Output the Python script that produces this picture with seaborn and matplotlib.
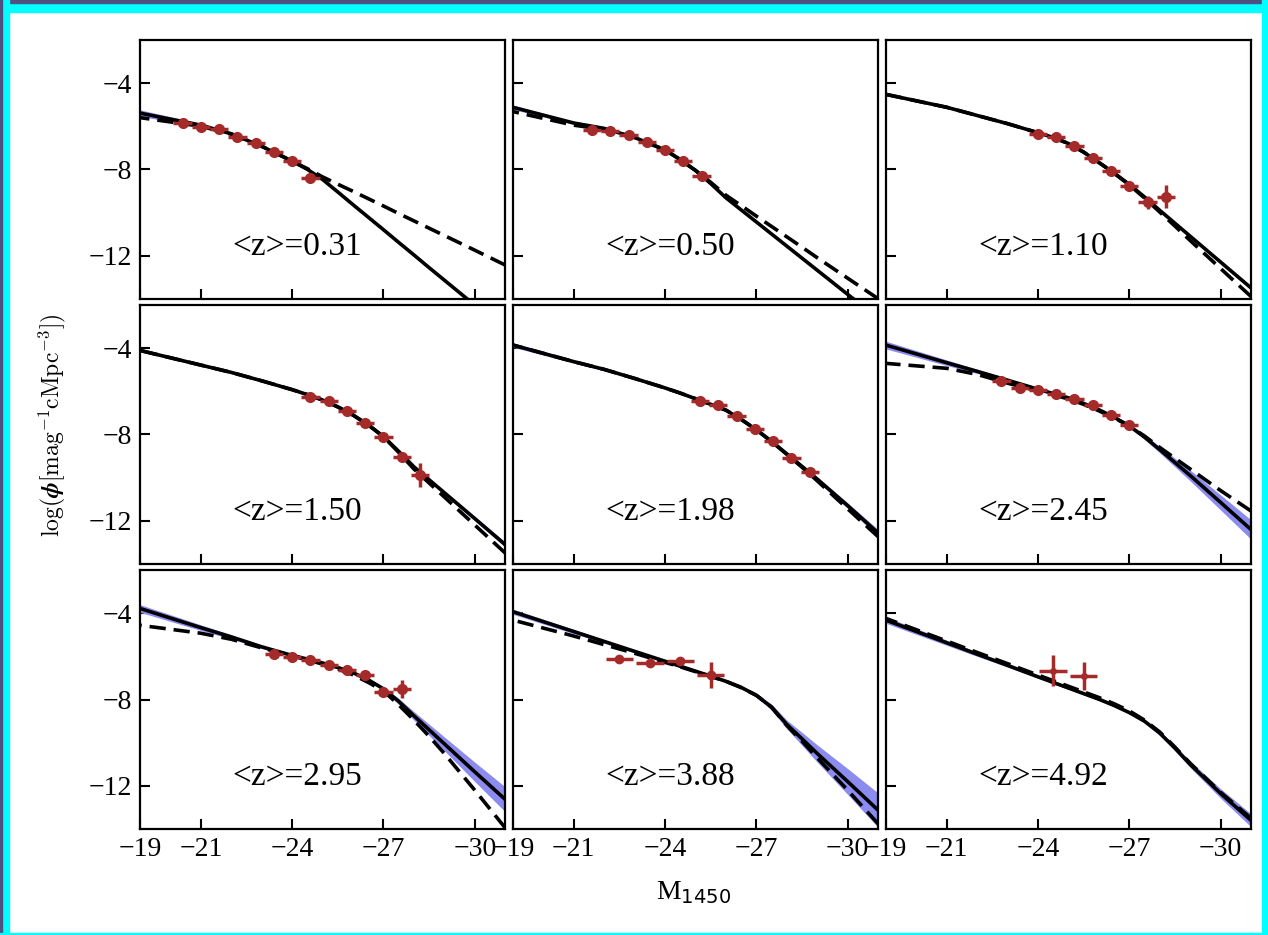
import numpy as np
import matplotlib
matplotlib.use('Agg')
import matplotlib.pyplot as plt
import seaborn as sns
from matplotlib.patches import Rectangle

# ==========================================
# Data
# ==========================================
z_labels = ['0.31', '0.50', '1.10', '1.50', '1.98', '2.45', '2.95', '3.88', '4.92']

M_grid = [-19, -21, -22, -23, -24, -24.5, -25, -25.5, -26, -26.5, -27, -27.5,
          -28, -28.5, -29, -30, -31]

solid_fit = [
    [-5.39, -5.95, -6.35, -6.93, -7.62, -8.0, -8.47, -9.05, -9.64, -10.22, -10.8, -11.39, -11.97, -12.56, -13.14, -14.3, -15.5],
    [-5.12, -5.85, -6.1, -6.52, -7.1, -7.55, -8.05, -8.66, -9.32, -9.88, -10.44, -11.0, -11.56, -12.12, -12.68, -13.8, -14.9],
    [-4.52, -5.12, -5.5, -5.88, -6.3, -6.52, -6.8, -7.2, -7.68, -8.17, -8.7, -9.28, -9.9, -10.5, -11.1, -12.3, -13.5],
    [-4.1, -4.78, -5.12, -5.51, -5.92, -6.15, -6.4, -6.72, -7.1, -7.55, -8.1, -8.78, -9.5, -10.1, -10.7, -11.9, -13.11],
    [-3.85, -4.62, -4.98, -5.4, -5.84, -6.08, -6.34, -6.6, -6.87, -7.3, -7.78, -8.32, -8.9, -9.48, -10.07, -11.3, -12.57],
    [-3.85, -4.67, -5.07, -5.48, -5.9, -6.1, -6.3, -6.56, -6.85, -7.2, -7.6, -8.12, -8.7, -9.3, -9.9, -11.15, -12.41],
    [-3.77, -4.66, -5.09, -5.55, -5.95, -6.12, -6.3, -6.51, -6.75, -7.08, -7.5, -8.08, -8.75, -9.4, -10.05, -11.35, -12.63],
    [-3.92, -4.84, -5.3, -5.76, -6.22, -6.45, -6.68, -6.91, -7.15, -7.43, -7.8, -8.35, -9.15, -9.82, -10.5, -11.8, -13.13],
    [-4.31, -5.36, -5.89, -6.41, -6.94, -7.2, -7.46, -7.72, -7.98, -8.27, -8.6, -9.0, -9.55, -10.25, -11.0, -12.35, -13.6],
]

dashed_fit = [
    [-5.6, -6.0, -6.37, -6.93, -7.62, -7.97, -8.35, -8.69, -9.02, -9.36, -9.7, -10.05, -10.39, -10.73, -11.07, -11.75, -12.44],
    [-5.32, -5.95, -6.15, -6.52, -7.1, -7.55, -8.05, -8.6, -9.2, -9.68, -10.17, -10.65, -11.13, -11.61, -12.1, -13.05, -14.0],
    [-4.52, -5.12, -5.5, -5.88, -6.3, -6.52, -6.8, -7.2, -7.68, -8.18, -8.72, -9.33, -9.98, -10.63, -11.3, -12.6, -13.9],
    [-4.1, -4.78, -5.12, -5.51, -5.92, -6.15, -6.4, -6.72, -7.1, -7.56, -8.1, -8.83, -9.6, -10.25, -10.9, -12.2, -13.5],
    [-3.85, -4.62, -4.98, -5.4, -5.84, -6.08, -6.34, -6.6, -6.87, -7.3, -7.78, -8.33, -8.92, -9.52, -10.15, -11.45, -12.74],
    [-4.7, -4.93, -5.21, -5.62, -5.98, -6.16, -6.35, -6.6, -6.9, -7.23, -7.6, -8.07, -8.6, -9.1, -9.6, -10.6, -11.55],
    [-4.55, -4.92, -5.2, -5.6, -5.97, -6.16, -6.35, -6.58, -6.85, -7.2, -7.6, -8.24, -8.95, -9.7, -10.5, -12.2, -13.95],
    [-4.31, -5.05, -5.45, -5.85, -6.27, -6.48, -6.7, -6.92, -7.15, -7.44, -7.8, -8.35, -9.2, -9.93, -10.7, -12.2, -13.76],
    [-4.23, -5.28, -5.81, -6.33, -6.86, -7.12, -7.38, -7.64, -7.9, -8.19, -8.52, -8.95, -9.5, -10.2, -10.95, -12.3, -13.5],
]

band_half = [
    [0.15, 0.08, 0.06, 0.06, 0.06, 0.06, 0.06, 0.06, 0.06, 0.06, 0.06, 0.06, 0.06, 0.06, 0.06, 0.06, 0.06],
    [0.10, 0.06, 0.05, 0.05, 0.05, 0.05, 0.05, 0.05, 0.05, 0.05, 0.05, 0.05, 0.06, 0.06, 0.06, 0.07, 0.08],
    [0.06, 0.05, 0.05, 0.05, 0.05, 0.05, 0.05, 0.05, 0.05, 0.05, 0.05, 0.05, 0.06, 0.06, 0.06, 0.07, 0.08],
    [0.06, 0.05, 0.05, 0.05, 0.05, 0.05, 0.05, 0.05, 0.05, 0.05, 0.06, 0.06, 0.07, 0.08, 0.08, 0.10, 0.12],
    [0.10, 0.07, 0.06, 0.06, 0.06, 0.06, 0.06, 0.06, 0.06, 0.06, 0.07, 0.07, 0.08, 0.09, 0.10, 0.13, 0.16],
    [0.18, 0.13, 0.10, 0.08, 0.07, 0.06, 0.06, 0.06, 0.07, 0.07, 0.08, 0.11, 0.15, 0.20, 0.25, 0.35, 0.45],
    [0.18, 0.13, 0.10, 0.08, 0.07, 0.06, 0.06, 0.06, 0.06, 0.07, 0.08, 0.14, 0.20, 0.26, 0.32, 0.45, 0.58],
    [0.12, 0.10, 0.08, 0.07, 0.06, 0.06, 0.06, 0.06, 0.06, 0.07, 0.08, 0.14, 0.20, 0.30, 0.40, 0.60, 0.80],
    [0.15, 0.12, 0.10, 0.08, 0.07, 0.07, 0.06, 0.06, 0.06, 0.06, 0.06, 0.08, 0.10, 0.12, 0.15, 0.22, 0.30],
]

pts_M = [
    [-20.4, -21.0, -21.6, -22.2, -22.8, -23.4, -24.0, -24.6],
    [-21.6, -22.2, -22.8, -23.4, -24.0, -24.6, -25.2],
    [-24.0, -24.6, -25.2, -25.8, -26.4, -27.0, -27.6, -28.2],
    [-24.6, -25.2, -25.8, -26.4, -27.0, -27.6, -28.2],
    [-25.15, -25.75, -26.35, -26.95, -27.55, -28.15, -28.75],
    [-22.8, -23.4, -24.0, -24.6, -25.2, -25.8, -26.4, -27.0],
    [-23.4, -24.0, -24.6, -25.2, -25.8, -26.4, -27.0, -27.6],
    [-22.5, -23.5, -24.5, -25.5],
    [-24.5, -25.5],
]
pts_phi = [
    [-5.85, -6.02, -6.13, -6.51, -6.80, -7.19, -7.63, -8.38],
    [-6.16, -6.21, -6.42, -6.74, -7.11, -7.60, -8.29],
    [-6.38, -6.50, -6.93, -7.48, -8.08, -8.78, -9.53, -9.26],
    [-6.28, -6.46, -6.93, -7.47, -8.11, -9.05, -9.89],
    [-6.46, -6.65, -7.12, -7.74, -8.31, -9.11, -9.75],
    [-5.51, -5.84, -5.92, -6.14, -6.34, -6.65, -7.08, -7.54],
    [-5.87, -6.00, -6.15, -6.39, -6.61, -6.86, -7.64, -7.51],
    [-6.11, -6.30, -6.20, -6.86],
    [-6.65, -6.89],
]
pts_xerr = [0.3, 0.3, 0.3, 0.3, 0.3, 0.3, 0.3, 0.45, 0.45]
pts_yerr = [
    [0.04, 0.04, 0.04, 0.05, 0.05, 0.06, 0.08, 0.12],
    [0.04, 0.04, 0.04, 0.05, 0.06, 0.08, 0.10],
    [0.05, 0.05, 0.05, 0.06, 0.08, 0.12, 0.30, 0.55],
    [0.05, 0.05, 0.06, 0.08, 0.10, 0.15, 0.55],
    [0.05, 0.05, 0.06, 0.08, 0.10, 0.14, 0.18],
    [0.05, 0.05, 0.05, 0.05, 0.06, 0.08, 0.10, 0.12],
    [0.05, 0.05, 0.05, 0.06, 0.07, 0.10, 0.15, 0.40],
    [0.15, 0.10, 0.15, 0.62],
    [0.72, 0.64],
]
marker_size = [7, 7, 7, 7, 7, 7, 7, 6, 4]

x_ticks = [-19, -21, -24, -27, -30]
y_ticks = [-4, -8, -12]

# ==========================================
# Style
# ==========================================
sns.set_theme(style='ticks')
plt.rcParams['font.family'] = ['Liberation Serif', 'DejaVu Serif']
plt.rcParams['axes.linewidth'] = 1.6
plt.rcParams['xtick.direction'] = 'in'
plt.rcParams['ytick.direction'] = 'in'
for key in ['text.color', 'axes.labelcolor', 'xtick.color', 'ytick.color',
            'axes.edgecolor']:
    plt.rcParams[key] = 'black'

pt_color = '#a52a2a'
band_color = '#8c8cf0'

fig, axes = plt.subplots(3, 3, figsize=(12.68, 9.35), dpi=100, sharex=True, sharey=True)
fig.subplots_adjust(left=0.1104, right=0.9866, top=0.9572, bottom=0.1134,
                    wspace=0.021, hspace=0.025)

for i, ax in enumerate(axes.flat):
    solid = np.array(solid_fit[i])
    half = np.array(band_half[i])
    ax.fill_between(M_grid, solid - half, solid + half, color=band_color,
                    lw=0, zorder=1)
    sns.lineplot(x=M_grid, y=dashed_fit[i], ax=ax, color='black', lw=2.6,
                 linestyle=(0, (4.5, 2.2)), zorder=2)
    sns.lineplot(x=M_grid, y=solid_fit[i], ax=ax, color='black', lw=2.6, zorder=3)
    ax.errorbar(pts_M[i], pts_phi[i], xerr=pts_xerr[i], yerr=pts_yerr[i],
                fmt='o', color=pt_color, ms=marker_size[i], elinewidth=2.5,
                capsize=0, zorder=4)
    ax.text(0.43, 0.2, '<z>=' + z_labels[i], transform=ax.transAxes,
            ha='center', va='center', fontsize=24)

    ax.set_xlim(-19, -31)
    ax.set_ylim(-14, -2)
    ax.set_xticks(x_ticks)
    ax.set_yticks(y_ticks)
    ax.tick_params(length=7, width=1.5, labelsize=20, top=False, right=False,
                   pad=6)
    for sp in ax.spines.values():
        sp.set_visible(True)
        sp.set_color('black')

fig.text(0.041, 0.545, r'$\log(\boldsymbol{\phi}[\mathrm{mag}^{-1}\mathrm{cMpc}^{-3}])$',
         rotation=90, ha='center', va='center', fontsize=17, math_fontfamily='cm')
fig.text(0.547, 0.045, r'M$_{1450}$', ha='center', va='center', fontsize=20,
         math_fontfamily='dejavusans')

# window frame around the figure
frame = [((0, 0.987), 1, 0.013, 'cyan'), ((0, 0.9968), 1, 0.0032, '#505080'),
         ((0, 0), 0.0071, 1, 'cyan'), ((0, 0), 0.0016, 1, '#505080'),
         ((0.9953, 0), 0.0047, 1, 'cyan'), ((0, 0), 1, 0.0025, 'cyan')]
for (xy, w, h, c) in frame:
    fig.patches.append(Rectangle(xy, w, h, transform=fig.transFigure,
                                 color=c, zorder=10))

plt.savefig('out.png', dpi=100)
